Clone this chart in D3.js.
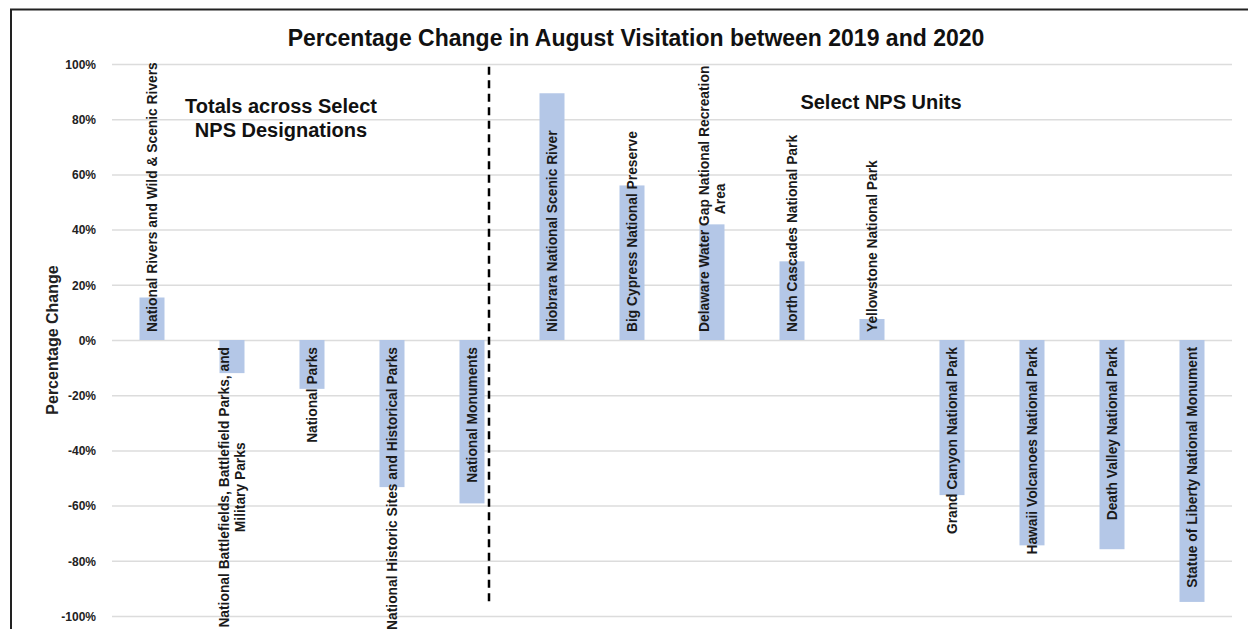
<!DOCTYPE html>
<html lang="en">
<head>
<meta charset="UTF-8">
<title>Percentage Change in August Visitation</title>
<script src="https://d3js.org/d3.v7.min.js"></script>
<style>
  html, body { margin: 0; padding: 0; background: #fff; }
  svg { display: block; font-family: "Liberation Sans", Arial, sans-serif; }
  .grid line { stroke: #dcdcdc; stroke-width: 1.5px; }
  .grid .domain { display: none; }
  .yaxis .domain, .yaxis line { display: none; }
  .yaxis text { font-size: 12px; font-weight: bold; fill: #222; }
  .cat text { font-size: 13.8px; font-weight: bold; fill: #1a1a1a; }
</style>
</head>
<body>
<div id="chart"></div>
<script>
// categories (a "\n" marks a line break in the label)
const categories = [
  "National Rivers and Wild & Scenic Rivers",
  "National Battlefields,  Battlefield Parks, and\nMilitary Parks",
  "National Parks",
  "National Historic Sites and Historical Parks",
  "National Monuments",
  "Niobrara National Scenic River",
  "Big Cypress National Preserve",
  "Delaware Water Gap National Recreation\nArea",
  "North Cascades National Park",
  "Yellowstone National Park",
  "Grand Canyon National Park",
  "Hawaii Volcanoes National Park",
  "Death Valley National Park",
  "Statue of Liberty National Monument"
];
// percentage change, Aug 2019 -> Aug 2020
const values = [0.154, -0.12, -0.177, -0.533, -0.592,
                0.894, 0.56, 0.419, 0.285, 0.076,
               -0.562, -0.744, -0.758, -0.949];
const yTicks = [1, 0.8, 0.6, 0.4, 0.2, 0, -0.2, -0.4, -0.6, -0.8, -1];
const groupTitles = ["Totals across Select\nNPS Designations", "Select NPS Units"];
const dividerAfter = 5; // first 5 bars are designation totals

const width = 1248, height = 629;
const margin = { top: 64, right: 16, bottom: 13, left: 112 };

const svg = d3.select("#chart").append("svg")
  .attr("width", width)
  .attr("height", height);

// outer frame (only left and top edges show in the picture)
svg.append("rect")
  .attr("x", 11).attr("y", 9.5)
  .attr("width", 1300).attr("height", 700)
  .attr("fill", "#fff")
  .attr("stroke", "#222").attr("stroke-width", 2);

const x = d3.scaleBand()
  .domain(categories)
  .range([margin.left, width - margin.right])
  .paddingInner(0.6875)
  .paddingOuter(0.34375);

const y = d3.scaleLinear()
  .domain([-1, 1])
  .range([height - margin.bottom, margin.top]);

// plain hyphen for negatives, like the original
const pct = d => d3.format(".0%")(d).replace("\u2212", "-");

// gridlines
svg.append("g")
  .attr("class", "grid")
  .attr("transform", `translate(${margin.left},0)`)
  .call(d3.axisLeft(y).tickValues(yTicks).tickSize(-(width - margin.left - margin.right)).tickFormat(""));

// y tick labels
svg.append("g")
  .attr("class", "yaxis")
  .attr("transform", `translate(${margin.left - 13},0)`)
  .call(d3.axisLeft(y).tickValues(yTicks).tickSize(0).tickFormat(pct))
  .selectAll("text").attr("dy", "0.35em");

// y axis title
svg.append("text")
  .attr("transform", `translate(58,${(y(1) + y(-1)) / 2}) rotate(-90)`)
  .attr("text-anchor", "middle")
  .style("font-size", "16px").style("font-weight", "bold").style("fill", "#222")
  .text("Percentage Change");

// chart title
svg.append("text")
  .attr("x", 636).attr("y", 46)
  .attr("text-anchor", "middle")
  .style("font-size", "23px").style("font-weight", "bold").style("fill", "#111")
  .text("Percentage Change in August Visitation between 2019 and 2020");

// bars
svg.selectAll(".bar")
  .data(categories)
  .enter().append("rect")
  .attr("class", "bar")
  .attr("x", d => x(d))
  .attr("width", x.bandwidth())
  .attr("y", (d, i) => y(Math.max(0, values[i])))
  .attr("height", (d, i) => Math.abs(y(values[i]) - y(0)))
  .attr("fill", "#b4c7e7");

// divider between the two groups
const divX = x(categories[dividerAfter - 1]) + x.bandwidth() + 4.5;
svg.append("line")
  .attr("x1", divX).attr("x2", divX)
  .attr("y1", y(0.99)).attr("y2", y(-0.96))
  .attr("stroke", "#000").attr("stroke-width", 2.5)
  .attr("stroke-dasharray", "8,5.5");

// category labels, rotated, anchored at the zero line
const cat = svg.selectAll(".cat")
  .data(categories)
  .enter().append("g")
  .attr("class", "cat")
  .attr("transform", d => `translate(${x(d) + x.bandwidth() / 2},${y(0)}) rotate(-90)`);

cat.each(function (d, i) {
  const g = d3.select(this);
  const lines = d.split("\n");
  const up = values[i] >= 0;
  const off = up ? 8 : -7;
  const first = g.append("text")
    .attr("x", off)
    .attr("y", lines.length > 1 ? -8 : 0)
    .attr("dy", "0.35em")
    .attr("text-anchor", up ? "start" : "end")
    .text(lines[0]);
  if (lines.length > 1) {
    const len = first.node().getComputedTextLength();
    g.append("text")
      .attr("x", up ? off + len / 2 : off - len / 2)
      .attr("y", 8)
      .attr("dy", "0.35em")
      .attr("text-anchor", "middle")
      .text(lines[1]);
  }
});

// group annotations
const gt = svg.append("g")
  .style("font-size", "20px").style("font-weight", "bold").style("fill", "#111");
gt.selectAll("text.left")
  .data(groupTitles[0].split("\n"))
  .enter().append("text")
  .attr("x", 281)
  .attr("y", (d, i) => 113 + i * 24)
  .attr("text-anchor", "middle")
  .text(d => d);
gt.append("text")
  .attr("x", 881).attr("y", 109)
  .attr("text-anchor", "middle")
  .text(groupTitles[1]);
</script>
</body>
</html>
